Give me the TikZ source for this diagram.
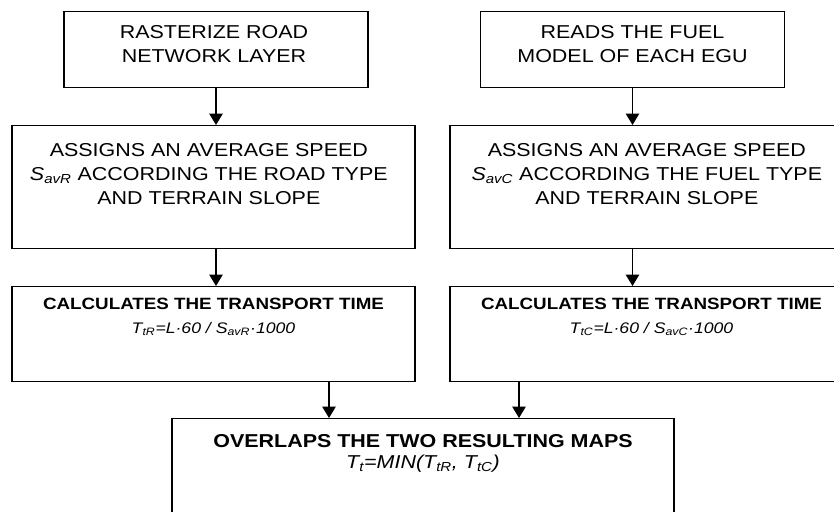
\documentclass[tikz,border=0pt]{standalone}
\usepackage{fontspec}
\setmainfont{Liberation Sans}[FakeStretch=1.15]
\usetikzlibrary{positioning,arrows.meta,calc}

\begin{document}
\begin{tikzpicture}[x=0.75pt,y=-0.75pt,
    box/.style={draw, line width=1pt, anchor=north, inner sep=0pt},
    txt/.style={align=center, inner sep=0pt, font=\fontsize{14}{18}\selectfont},
    calc/.style={align=center, inner sep=0pt, font=\fontsize{12.25}{17.5}\selectfont},
    arr/.style={line width=1pt, -{Triangle[length=8.5pt, width=10pt]}}]
  \useasboundingbox (0,0) rectangle (834,511);
  \clip (0,0) rectangle (834,511);
  % boxes
  \node[box, minimum width=228pt, minimum height=57pt] (rast) at (216,11) {};
  \node[box, minimum width=228pt, minimum height=57pt] (fuel) at (632.5,11) {};
  \node[box, minimum width=302.25pt, minimum height=92.25pt] (speedR) at (213.5,125) {};
  \node[box, minimum width=302.25pt, minimum height=92.25pt] (speedC) at (651.5,125) {};
  \node[box, minimum width=302.25pt, minimum height=71.25pt] (timeR) at (213.5,286) {};
  \node[box, minimum width=302.25pt, minimum height=71.25pt] (timeC) at (651.5,286) {};
  \node[box, minimum width=376.5pt, minimum height=90pt] (maps) at (423,418) {};
  % texts
  \node[txt, below=11pt of rast.north, xshift=-1.5pt] (rastT) {RASTERIZE ROAD\\NETWORK LAYER};
  \node[txt, below=11pt of fuel.north] (fuelT) {READS THE FUEL\\MODEL OF EACH EGU};
  \node[txt, below=14pt of speedR.north, xshift=-3.5pt] (speedRT) {ASSIGNS AN AVERAGE SPEED\\
    \textit{S\textsubscript{avR}} ACCORDING THE ROAD TYPE\\AND TERRAIN SLOPE};
  \node[txt, below=14pt of speedC.north, xshift=-3.5pt] (speedCT) {ASSIGNS AN AVERAGE SPEED\\
    \textit{S\textsubscript{avC}} ACCORDING THE FUEL TYPE\\AND TERRAIN SLOPE};
  \node[calc, below=9pt of timeR.north] (timeRT) {\textbf{CALCULATES THE TRANSPORT TIME}\\
    {\fontsize{11.5}{14}\selectfont\textit{T\textsubscript{tR}=L·60 / S\textsubscript{avR}·1000}}};
  \node[calc, below=9pt of timeC.north] (timeCT) {\textbf{CALCULATES THE TRANSPORT TIME}\\
    {\fontsize{11.5}{14}\selectfont\textit{T\textsubscript{tC}=L·60 / S\textsubscript{avC}·1000}}};
  \node[txt, below=12pt of maps.north] (mapsT) {\textbf{OVERLAPS THE TWO RESULTING MAPS}\\[-2pt]
    \textit{T\textsubscript{t}=MIN(T\textsubscript{tR}, T\textsubscript{tC})}};
  % connectors
  \coordinate (jR) at ($(timeR.south)+(115.5,0)$);
  \coordinate (jC) at ($(timeC.south)+(-132.5,0)$);
  \draw[arr] (rast.south) -- (rast.south |- speedR.north);
  \draw[arr] (fuel.south) -- (fuel.south |- speedC.north);
  \draw[arr] (rast.south |- speedR.south) -- (rast.south |- timeR.north);
  \draw[arr] (fuel.south |- speedC.south) -- (fuel.south |- timeC.north);
  \draw[arr] (jR) -- (jR |- maps.north);
  \draw[arr] (jC) -- (jC |- maps.north);
\end{tikzpicture}
\end{document}
